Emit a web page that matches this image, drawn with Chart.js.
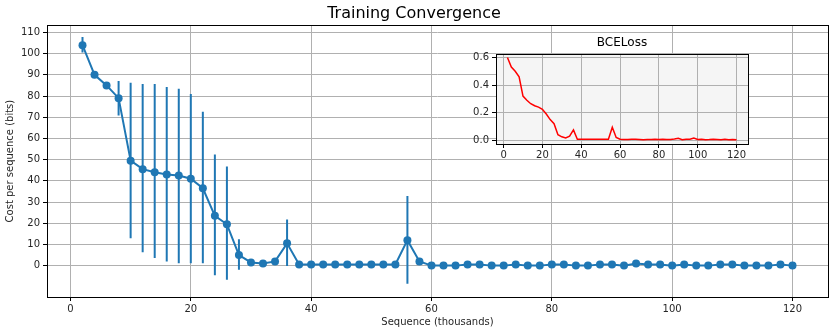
<!DOCTYPE html>
<html>
<head>
<meta charset="utf-8">
<script src="https://cdn.jsdelivr.net/npm/chart.js@4/dist/chart.umd.min.js"></script>
<style>
  body { margin: 0; background: #fff; }
  #wrap { position: relative; width: 839px; height: 335px; }
  #main { position: absolute; left: 0; top: 0; }
  #inset { position: absolute; left: 455px; top: 30px; }
</style>
</head>
<body>
<div id="wrap">
  <canvas id="main" width="839" height="335"></canvas>
  <canvas id="inset" width="334" height="132"></canvas>
</div>
<script>
// sequence number (thousands)
const seqK = [2, 4, 6, 8, 10, 12, 14, 16, 18, 20, 22, 24, 26, 28, 30, 32, 34, 36, 38, 40,
  42, 44, 46, 48, 50, 52, 54, 56, 58, 60, 62, 64, 66, 68, 70, 72, 74, 76, 78, 80,
  82, 84, 86, 88, 90, 92, 94, 96, 98, 100, 102, 104, 106, 108, 110, 112, 114, 116, 118, 120];

// mean cost per sequence (bits)
const costBits = [104, 90, 85, 79, 49.5, 45.5, 44, 43, 42.5, 41, 36.5, 23.5, 19.5, 5, 1.5, 1, 2, 10.5, 0.5, 0.5,
  0.5, 0.5, 0.5, 0.5, 0.5, 0.5, 0.5, 12, 2, 0, 0, 0, 0.5, 0.5, 0, 0, 0.5, 0, 0, 0.5,
  0.5, 0, 0, 0.5, 0.5, 0, 1, 0.5, 0.5, 0, 0.5, 0, 0, 0.5, 0.5, 0, 0, 0, 0.5, 0];

// error bar ends (null = too small to see)
const errLow = [100.5, null, null, 70.8, 12.9, 6.3, 3.6, 2.0, 1.1, 1.1, 1.1, -4.5, -6.7, -2.0, null, null, null, -0.2, null, null,
  null, null, null, null, null, null, null, -8.6, null, null, null, null, null, null, null, null, null, null, null, null,
  null, null, null, null, null, null, null, null, null, null, null, null, null, null, null, null, null, null, null, null];
const errHigh = [107.8, null, null, 87.1, 86.2, 85.7, 85.7, 84.3, 83.4, 81.0, 72.6, 52.4, 46.7, 12.4, null, null, null, 21.8, null, null,
  null, null, null, null, null, null, null, 32.8, null, null, null, null, null, null, null, null, null, null, null, null,
  null, null, null, null, null, null, null, null, null, null, null, null, null, null, null, null, null, null, null, null];

// BCE loss for the inset
const bceLoss = [0.60, 0.53, 0.50, 0.46, 0.32, 0.29, 0.265, 0.25, 0.24, 0.225, 0.19, 0.15, 0.12, 0.04, 0.025, 0.017, 0.03, 0.075, 0.008, 0.008,
  0.008, 0.008, 0.008, 0.008, 0.008, 0.008, 0.008, 0.095, 0.02, 0.008, 0.005, 0.005, 0.008, 0.007, 0.006, 0.004, 0.006, 0.005, 0.007, 0.005,
  0.008, 0.005, 0.006, 0.01, 0.015, 0.004, 0.008, 0.007, 0.016, 0.006, 0.008, 0.004, 0.005, 0.008, 0.006, 0.003, 0.007, 0.004, 0.006, 0.004];

const xTicks = [0, 20, 40, 60, 80, 100, 120];
const yTicks = [0, 10, 20, 30, 40, 50, 60, 70, 80, 90, 100, 110];
const insetYTicks = [0, 0.2, 0.4, 0.6];

const FONT = "'DejaVu Sans', sans-serif";
const BLUE = "#1f77b4";
const GRID = "#b0b0b0";
const TXT = "#262626";

// black box around the plot area, like matplotlib spines
const framePlugin = {
  id: "frame",
  beforeDraw(chart, args, opts) {
    if (opts.fill) {
      const a = chart.chartArea;
      const ctx = chart.ctx;
      ctx.save();
      ctx.fillStyle = opts.fill;
      ctx.fillRect(a.left, a.top, a.right - a.left, a.bottom - a.top);
      ctx.restore();
    }
  },
  afterDraw(chart) {
    const a = chart.chartArea;
    const ctx = chart.ctx;
    ctx.save();
    ctx.strokeStyle = "#000";
    ctx.lineWidth = 1;
    ctx.strokeRect(Math.round(a.left) + 0.5, Math.round(a.top) + 0.5,
      Math.round(a.right - a.left), Math.round(a.bottom - a.top));
    ctx.restore();
  }
};

const errorBarPlugin = {
  id: "errorBars",
  beforeDatasetsDraw(chart) {
    const xs = chart.scales.x, ys = chart.scales.y;
    const ctx = chart.ctx;
    const a = chart.chartArea;
    ctx.save();
    ctx.beginPath();
    ctx.rect(a.left, a.top, a.right - a.left, a.bottom - a.top);
    ctx.clip();
    ctx.strokeStyle = BLUE;
    ctx.lineWidth = 2;
    for (let i = 0; i < seqK.length; i++) {
      if (errLow[i] === null) continue;
      const px = xs.getPixelForValue(seqK[i]);
      ctx.beginPath();
      ctx.moveTo(px, ys.getPixelForValue(errLow[i]));
      ctx.lineTo(px, ys.getPixelForValue(errHigh[i]));
      ctx.stroke();
    }
    ctx.restore();
  }
};

function fixedTicks(values) {
  return (scale) => { scale.ticks = values.map((v) => ({ value: v })); };
}

new Chart(document.getElementById("main"), {
  type: "line",
  data: {
    datasets: [{
      data: seqK.map((x, i) => ({ x: x, y: costBits[i] })),
      borderColor: BLUE,
      backgroundColor: BLUE,
      borderWidth: 2,
      pointRadius: 4,
      pointBorderWidth: 0,
      tension: 0,
    }],
  },
  options: {
    responsive: false,
    animation: false,
    layout: { padding: { left: 0, right: 11, top: 0, bottom: 0 } },
    plugins: {
      legend: { display: false },
      tooltip: { enabled: false },
      title: {
        display: true,
        text: "Training Convergence",
        color: "#000",
        font: { family: FONT, size: 16, weight: "normal" },
        padding: { top: 4, bottom: 2 },
      },
      frame: {},
    },
    scales: {
      x: {
        type: "linear",
        min: -3.9,
        max: 125.9,
        afterBuildTicks: fixedTicks(xTicks),
        afterFit: (s) => { s.height = 38; },
        grid: { color: GRID, lineWidth: 1, tickLength: 4, tickColor: "#000" },
        border: { display: false },
        ticks: { color: TXT, font: { family: FONT, size: 10 }, padding: 2, maxRotation: 0 },
        title: {
          display: true,
          text: "Sequence (thousands)",
          color: TXT,
          font: { family: FONT, size: 10 },
          padding: { top: 2, bottom: 7 },
        },
      },
      y: {
        type: "linear",
        min: -14.8,
        max: 113.4,
        afterBuildTicks: fixedTicks(yTicks),
        afterFit: (s) => { s.width = 47; },
        grid: { color: GRID, lineWidth: 1, tickLength: 4, tickColor: "#000" },
        border: { display: false },
        ticks: { color: TXT, font: { family: FONT, size: 10 }, padding: 3 },
        title: {
          display: true,
          text: "Cost per sequence (bits)",
          color: TXT,
          font: { family: FONT, size: 10 },
          padding: { top: 4, bottom: 2 },
        },
      },
    },
  },
  plugins: [framePlugin, errorBarPlugin],
});

// inset: an empty right axis as wide as the left one keeps the title centred over the plot area
new Chart(document.getElementById("inset"), {
  type: "line",
  data: {
    datasets: [{
      data: seqK.map((x, i) => ({ x: x, y: bceLoss[i] })),
      borderColor: "#ff0000",
      borderWidth: 1.5,
      pointRadius: 0,
      tension: 0,
    }],
  },
  options: {
    responsive: false,
    animation: false,
    layout: { padding: 0 },
    plugins: {
      legend: { display: false },
      tooltip: { enabled: false },
      title: {
        display: true,
        text: "BCELoss",
        color: "#000",
        font: { family: FONT, size: 12, weight: "normal" },
        padding: { top: 6, bottom: 3.6 },
      },
      frame: { fill: "#f5f5f5" },
    },
    scales: {
      x: {
        type: "linear",
        min: -3.9,
        max: 125.9,
        afterBuildTicks: fixedTicks(xTicks),
        afterFit: (s) => { s.height = 18; },
        grid: { color: GRID, lineWidth: 1, tickLength: 4, tickColor: "#000" },
        border: { display: false },
        ticks: { color: TXT, font: { family: FONT, size: 10 }, padding: 1, maxRotation: 0 },
      },
      y: {
        type: "linear",
        min: -0.027,
        max: 0.625,
        afterBuildTicks: fixedTicks(insetYTicks),
        afterFit: (s) => { s.width = 41; },
        grid: { color: GRID, lineWidth: 1, tickLength: 4, tickColor: "#000" },
        border: { display: false },
        ticks: {
          color: TXT,
          font: { family: FONT, size: 10 },
          padding: 3,
          callback: (v) => v.toFixed(1),
        },
      },
      spacer: {
        type: "linear",
        position: "right",
        display: true,
        afterFit: (s) => { s.width = 41; },
        grid: { display: false },
        border: { display: false },
        ticks: { display: false },
      },
    },
  },
  plugins: [framePlugin],
});
</script>
</body>
</html>
